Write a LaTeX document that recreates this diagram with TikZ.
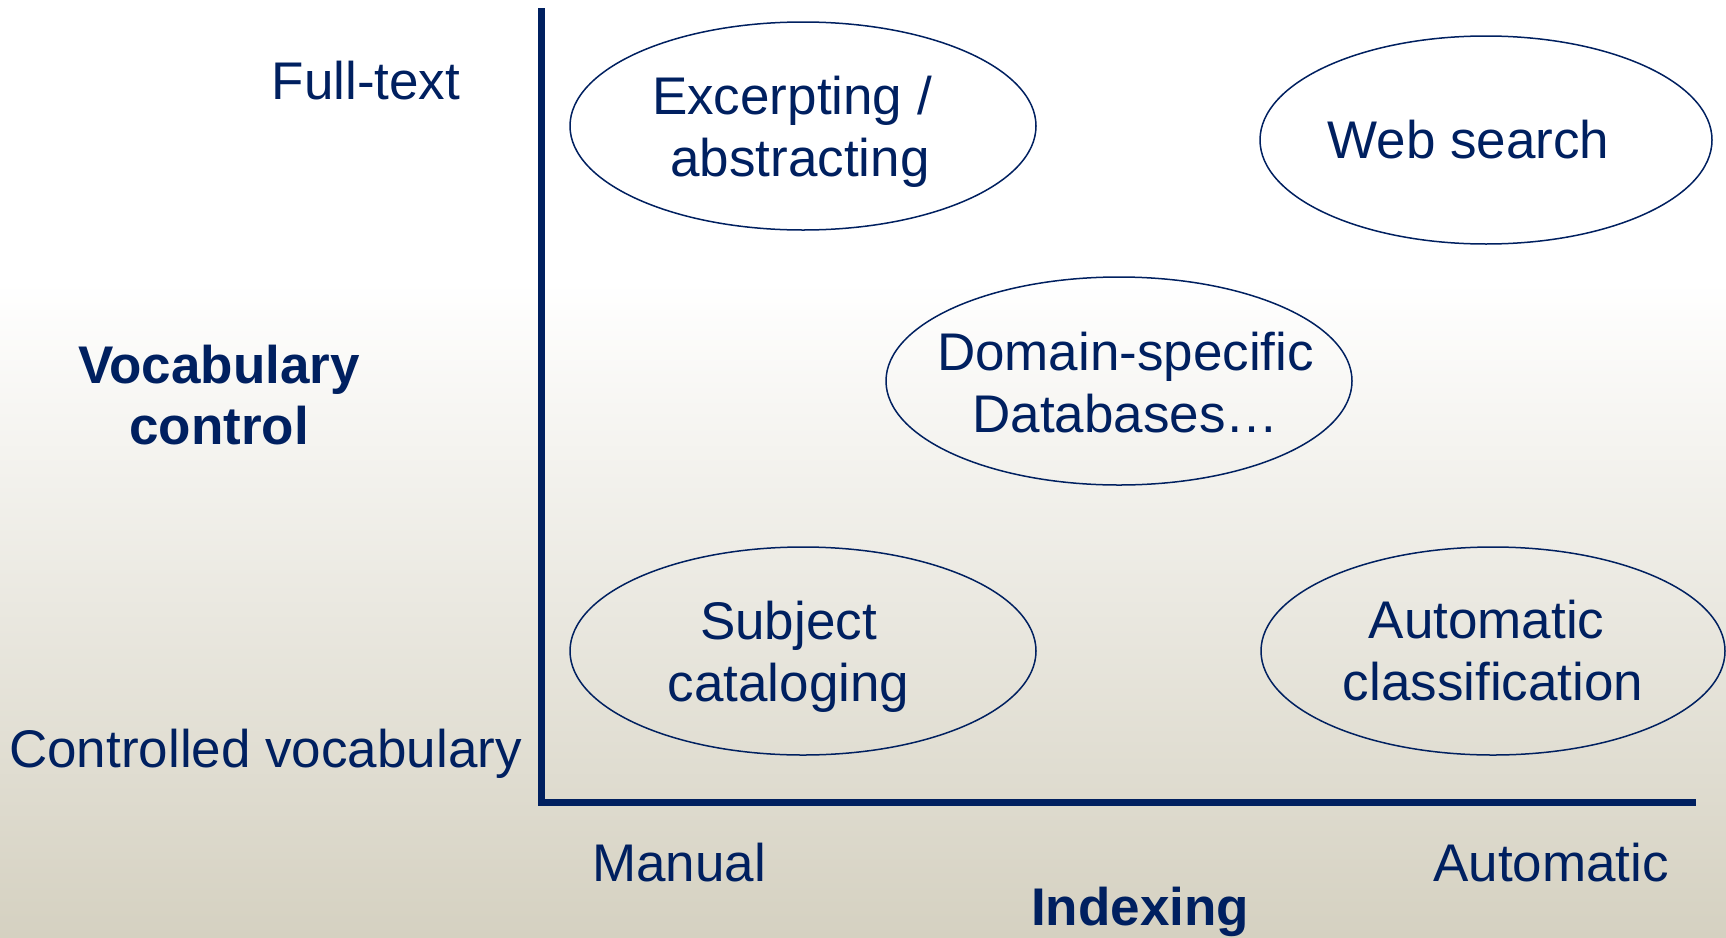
\documentclass[tikz,border=0pt]{standalone}
\usepackage{fontspec}
\setmainfont{Liberation Sans}
\usetikzlibrary{shapes.geometric}
\definecolor{navy}{RGB}{0,32,96}
\definecolor{bgbot}{RGB}{213,209,193}
% slide background: white on top, fading to beige at the bottom
% (the filled path is mapped onto the 25bp--75bp band of the shading)
\pgfdeclareverticalshading{slidebg}{100bp}{color(0bp)=(bgbot); color(25bp)=(bgbot); color(60bp)=(white); color(100bp)=(white)}

\begin{document}
\begin{tikzpicture}[x=1pt,y=-1pt,
  lbl/.style={text=navy, font=\fontsize{53}{62}\selectfont, inner sep=0pt},
  boldlbl/.style={lbl, font=\fontsize{53}{61}\selectfont\bfseries},
  oval/.style={lbl, draw=navy, line width=1.5pt, ellipse, align=center,
    inner xsep=-40pt, minimum width=466pt, minimum height=208pt},
  axisline/.style={draw=navy, line width=7pt}]

\fill[shading=slidebg] (0,0) rectangle (1726,937);
\useasboundingbox (0,0) rectangle (1726,937);

% axes
\coordinate (ytop) at (541,8);
\coordinate (origin) at (541,802);
\coordinate (xend) at (1696,802);
\draw[axisline] (ytop) -- (origin) -- (xend);

% indexing approaches
\node[oval] (excerpt) at (803,126)
  {\rule{0pt}{49pt}Excerpting /\hspace*{22pt}\\abstracting\hspace*{6pt}};
\node[oval, minimum width=452pt] (web) at (1486,140) {Web search\hspace*{35pt}};
\node[oval] (domain) at (1119,381)
  {\rule{0pt}{42.5pt}\hspace*{13pt}Domain-specific\\\hspace*{13pt}Databases…};
\node[oval] (subject) at (803,651)
  {\rule{0pt}{49pt}Subject\hspace*{29pt}\\cataloging\hspace*{29pt}};
\node[oval, minimum width=464pt] (autoclass) at (1493,651)
  {Automatic\hspace*{13pt}\\classification};

% axis labels
\node[lbl, anchor=base] (fulltext) at (366,99) {Full-text};
\node[boldlbl, align=center] (vocab) at (219,395) {Vocabulary\\control};
\node[lbl, anchor=base west] (controlled) at (9,767) {Controlled vocabulary};
\node[lbl, anchor=base west] (manual) at (592,881) {Manual};
\node[lbl, anchor=base west] (automatic) at (1433,881) {Automatic};
\node[boldlbl, anchor=base] (indexing) at (1140,925) {Indexing};
\end{tikzpicture}
\end{document}
